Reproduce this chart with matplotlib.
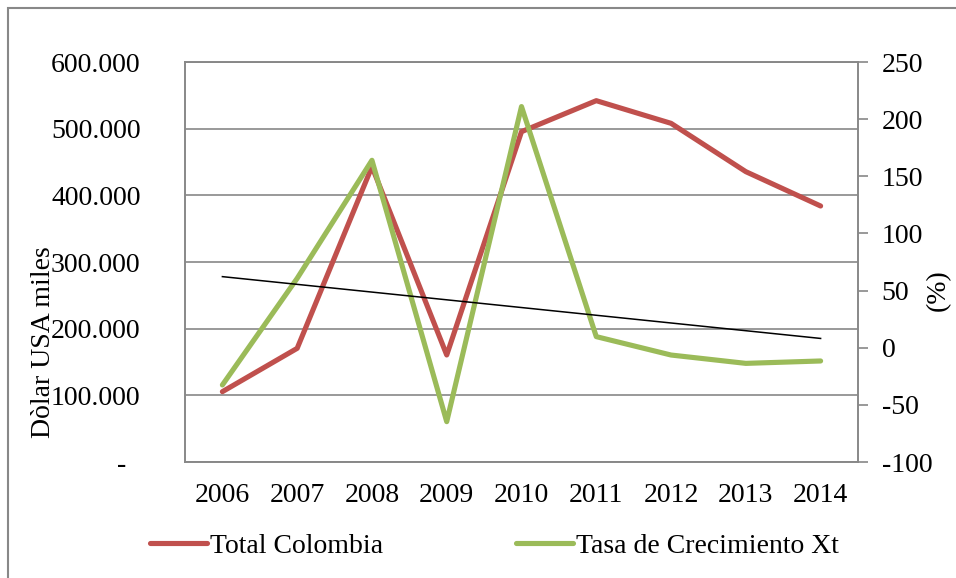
import numpy as np
import matplotlib
matplotlib.use("Agg")
import matplotlib.pyplot as plt
from matplotlib.patches import Rectangle
from matplotlib.ticker import FuncFormatter

years = ["2006", "2007", "2008", "2009", "2010", "2011", "2012", "2013", "2014"]
total_colombia = [105500, 170500, 443000, 160500, 495500, 542000, 508000, 435500, 384000]
tasa_crecimiento = [-32.6, 60.7, 164.0, -64.7, 211.0, 9.7, -6.4, -13.7, -11.6]

RED = "#C0504D"
GREEN = "#9BBB59"
GRAY = "#888888"
FS = 20

plt.rcParams["font.family"] = ["Liberation Serif", "DejaVu Serif"]
plt.rcParams["axes.unicode_minus"] = False

W, H = 956, 578
fig = plt.figure(figsize=(W / 100, H / 100), dpi=100)
ax = fig.add_axes([185 / W, (H - 462) / H, (858 - 185) / W, 400 / H])
ax2 = ax.twinx()

x = np.arange(len(years))
ax.plot(x, total_colombia, color=RED, lw=3.7, solid_capstyle="round", label="Total Colombia", zorder=3)
ax2.plot(x, tasa_crecimiento, color=GREEN, lw=3.7, solid_capstyle="round", label="Tasa de Crecimiento Xt", zorder=3)
coef = np.polyfit(x, tasa_crecimiento, 1)
ax2.plot(x, np.polyval(coef, x), color="black", lw=1.1, zorder=4)

ax.set_xlim(-0.5, len(years) - 0.5)
ax.set_ylim(0, 600000)
ax.set_yticks(np.arange(0, 600001, 100000))
ax.yaxis.set_major_formatter(FuncFormatter(
    lambda v, p: "-  " if v == 0 else f"{int(v):,}".replace(",", ".")))
ax2.set_ylim(-100, 250)
ax2.set_yticks(np.arange(-100, 251, 50))

ax.set_xticks(x)
ax.set_xticklabels(years)
ax.grid(axis="y", color=GRAY, lw=1.2)
ax.set_axisbelow(True)

for a in (ax, ax2):
    for s in a.spines.values():
        s.set_color(GRAY)
        s.set_linewidth(1.2)

ax.tick_params(axis="y", length=0, pad=32, labelsize=FS)
ax.tick_params(axis="x", length=0, pad=15, labelsize=FS)
ax2.tick_params(axis="y", length=7, width=1.2, color=GRAY, pad=10, labelsize=FS)

ax.set_ylabel("Dòlar USA miles", fontsize=FS)
ax.yaxis.set_label_coords((56 - 185) / 673, (462 - 342) / 400)
ax2.set_ylabel("(%)", fontsize=FS)
ax2.yaxis.set_label_coords((926 - 185) / 673, (462 - 290) / 400)

h1, l1 = ax.get_legend_handles_labels()
h2, l2 = ax2.get_legend_handles_labels()
fig.legend(h1 + h2, l1 + l2, loc="center left", bbox_to_anchor=(150 / W, (H - 546) / H),
           ncol=2, frameon=False, fontsize=FS, handlelength=2.05, handletextpad=0.1,
           columnspacing=4.8, borderpad=0, borderaxespad=0)

fig.add_artist(Rectangle((8 / W, -0.1), 1.1, (H - 8) / H + 0.1, transform=fig.transFigure,
                         fill=False, edgecolor=GRAY, lw=1.5))

fig.savefig("out.png", dpi=100)
